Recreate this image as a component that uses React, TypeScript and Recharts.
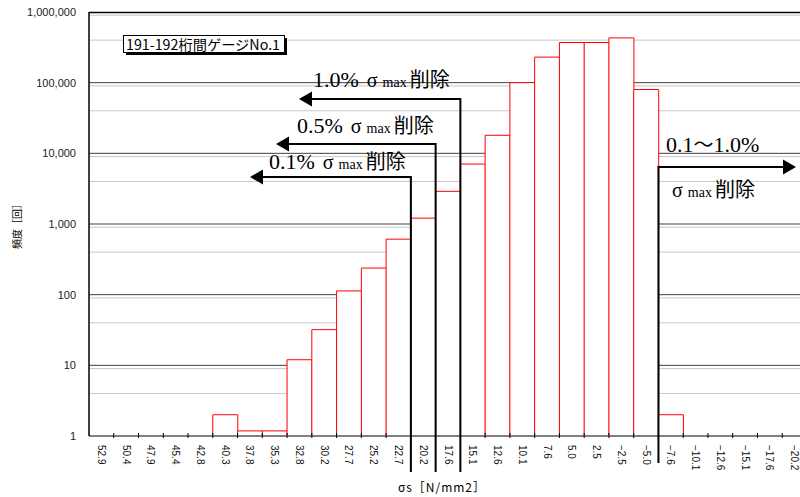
import React from 'react';
import { ComposedChart, Bar, XAxis, YAxis, CartesianGrid } from 'recharts';

// ---- data ----
const categories = [
  '52.9', '50.4', '47.9', '45.4', '42.8', '40.3', '37.8', '35.3', '32.8', '30.2',
  '27.7', '25.2', '22.7', '20.2', '17.6', '15.1', '12.6', '10.1', '7.6', '5.0',
  '2.5', '\u22122.5', '\u22125.0', '\u22127.6', '\u221210.1', '\u221212.6', '\u221215.1', '\u221217.6', '\u221220.2',
];
const frequencies: (number | null)[] = [
  null, null, null, null, null, 2, 1.18, 1.18, 12, 32,
  113, 238, 610, 1210, 2900, 7050, 18000, 100000, 230000, 370000,
  370000, 430000, 80000, 2, null, null, null, null, null,
];
const yTicks = [1, 10, 100, 1000, 10000, 100000, 1000000];
const minorMultipliers = [2, 3, 4, 5, 6, 7, 8, 9];

const title = '191-192桁間ゲージNo.1';
const yTitle = '頻度［回］';
const xTitle = 'σs［N/mm2］';

// annotation cuts: category whose left edge carries the cut line
const cuts = [
  { pct: '1.0%', at: '15.1' },
  { pct: '0.5%', at: '17.6' },
  { pct: '0.1%', at: '20.2' },
];
const rightCut = { from: '0.1', sep: '～', to: '1.0%', at: '\u22127.6' };

const data = categories.map((label, i) => ({ label, freq: frequencies[i] }));
const minorGrid = yTicks.slice(0, -1).flatMap((d) => minorMultipliers.map((m) => d * m));

// ---- layout ----
const CHART_W = 810;
const CHART_H = 497;
const PLOT_LEFT = 89;
const PLOT_TOP = 12;
const RIGHT_MARGIN = 3;
const X_AXIS_H = 61;
const PLOT_W = CHART_W - RIGHT_MARGIN - PLOT_LEFT;
const PLOT_BOTTOM = CHART_H - X_AXIS_H;
const BAND = PLOT_W / categories.length;
const edgeOf = (label: string) => PLOT_LEFT + categories.indexOf(label) * BAND;

const XTick = (props: any) => {
  const { x, y, payload } = props;
  return (
    <text
      transform={`translate(${x},${y + 9}) rotate(90)`}
      textAnchor="start"
      dominantBaseline="central"
      fontSize={10}
      fontFamily="'Liberation Sans', Arial, sans-serif"
      fill="#111"
    >
      {payload.value}
    </text>
  );
};

const serif = "'Liberation Serif', 'Times New Roman', serif";
const cjk = "'Noto Sans CJK JP', sans-serif";

const SigmaText = ({ x, y, prefix }: { x: number; y: number; prefix?: string }) => (
  <text x={x} y={y} fill="#000" fontFamily={serif} fontSize={22}>
    {prefix ? <tspan>{prefix}</tspan> : null}
    <tspan dx={prefix ? 8 : 0} fontSize={20}>σ</tspan>
    <tspan dx={5} fontSize={14}>max</tspan>
    <tspan dx={3} fontFamily={cjk} fontSize={20}>削除</tspan>
  </text>
);

const LeftArrow = ({ x, yTop, yBottom, tip }: { x: number; yTop: number; yBottom: number; tip: number }) => (
  <g>
    <polyline points={`${x},${yBottom} ${x},${yTop} ${tip + 12},${yTop}`} fill="none" stroke="#000" strokeWidth={2} />
    <polygon points={`${tip},${yTop} ${tip + 13},${yTop - 7.5} ${tip + 13},${yTop + 7.5}`} fill="#000" />
  </g>
);

const Overlay = () => {
  const arrowY = [99, 144, 177];
  const tips = [299, 276, 250];
  const textX = [313, 297, 269];
  const textY = [87, 133, 169];
  const rx = edgeOf(rightCut.at);
  return (
    <svg
      width={800}
      height={497}
      style={{ position: 'absolute', left: 0, top: 0, pointerEvents: 'none' }}
    >
      {/* top frame */}
      <line x1={PLOT_LEFT} x2={CHART_W} y1={PLOT_TOP + 0.5} y2={PLOT_TOP + 0.5} stroke="#000" strokeWidth={1.5} />
      {/* x-axis tick marks at band edges */}
      {categories.map((c, i) =>
        i === 0 ? null : (
          <line key={c} x1={PLOT_LEFT + i * BAND} x2={PLOT_LEFT + i * BAND} y1={PLOT_BOTTOM - 3} y2={PLOT_BOTTOM + 2} stroke="#000" strokeWidth={1} />
        )
      )}
      {/* title box */}
      <rect x={126} y={38} width={161} height={17} fill="#000" />
      <rect x={123.5} y={35.5} width={161} height={17} fill="#fff" stroke="#000" strokeWidth={1} />
      <text x={126} y={49.5} fontSize={14} fontFamily={cjk} fill="#000" textLength={154} lengthAdjust="spacingAndGlyphs">
        {title}
      </text>
      {/* axis titles */}
      <text
        transform={`translate(16,224) rotate(-90)`}
        textAnchor="middle"
        dominantBaseline="central"
        fontSize={10}
        fontFamily={cjk}
        fill="#000"
      >
        {yTitle}
      </text>
      <text x={398} y={492} fontSize={12} fontFamily={cjk} fill="#000" textLength={87} lengthAdjust="spacing">
        {xTitle}
      </text>
      {/* left-pointing cut annotations */}
      {cuts.map((c, i) => {
        const x = edgeOf(c.at);
        return (
          <g key={c.pct}>
            <LeftArrow x={x} yTop={arrowY[i]} yBottom={472} tip={tips[i]} />
            <SigmaText x={textX[i]} y={textY[i]} prefix={c.pct} />
          </g>
        );
      })}
      {/* right annotation */}
      <polyline points={`${rx},463 ${rx},167 ${783},167`} fill="none" stroke="#000" strokeWidth={2} />
      <polygon points={`796,167 ${783},${167 - 7.5} ${783},${167 + 7.5}`} fill="#000" />
      <text x={666} y={152} fill="#000" fontFamily={serif} fontSize={22}>
        <tspan>{rightCut.from}</tspan>
        <tspan fontFamily={cjk} fontSize={20}>{rightCut.sep}</tspan>
        <tspan>{rightCut.to}</tspan>
      </text>
      <SigmaText x={672} y={197} />
    </svg>
  );
};

export default function App() {
  return (
    <div
      style={{
        position: 'absolute',
        left: 0,
        top: 0,
        width: 800,
        height: 497,
        overflow: 'hidden',
        background: '#fff',
      }}
    >
      <ComposedChart
        width={CHART_W}
        height={CHART_H}
        data={data}
        margin={{ top: PLOT_TOP, right: RIGHT_MARGIN, left: 0, bottom: 0 }}
        barCategoryGap={0}
        barGap={0}
      >
        <CartesianGrid vertical={false} horizontalValues={minorGrid} stroke="#c8c8c8" strokeWidth={1} />
        <CartesianGrid vertical={false} horizontalValues={yTicks.slice(0, -1)} stroke="#404040" strokeWidth={1} />
        <XAxis
          dataKey="label"
          interval={0}
          height={X_AXIS_H}
          tick={<XTick />}
          tickLine={false}
          tickSize={0}
          tickMargin={0}
          axisLine={{ stroke: '#808080', strokeWidth: 2 }}
        />
        <YAxis
          type="number"
          scale="log"
          domain={[1, 1000000]}
          allowDataOverflow
          ticks={yTicks}
          width={PLOT_LEFT}
          tickLine={false}
          tickSize={0}
          tickMargin={13}
          axisLine={{ stroke: '#000', strokeWidth: 1.5 }}
          tick={{ fontSize: 11, fill: '#222', fontFamily: "'Liberation Sans', Arial, sans-serif" }}
          tickFormatter={(v: number) => v.toLocaleString('en-US')}
        />
        <Bar dataKey="freq" fill="#ffffff" stroke="#ff0000" strokeWidth={1} isAnimationActive={false} />
      </ComposedChart>
      <Overlay />
    </div>
  );
}
